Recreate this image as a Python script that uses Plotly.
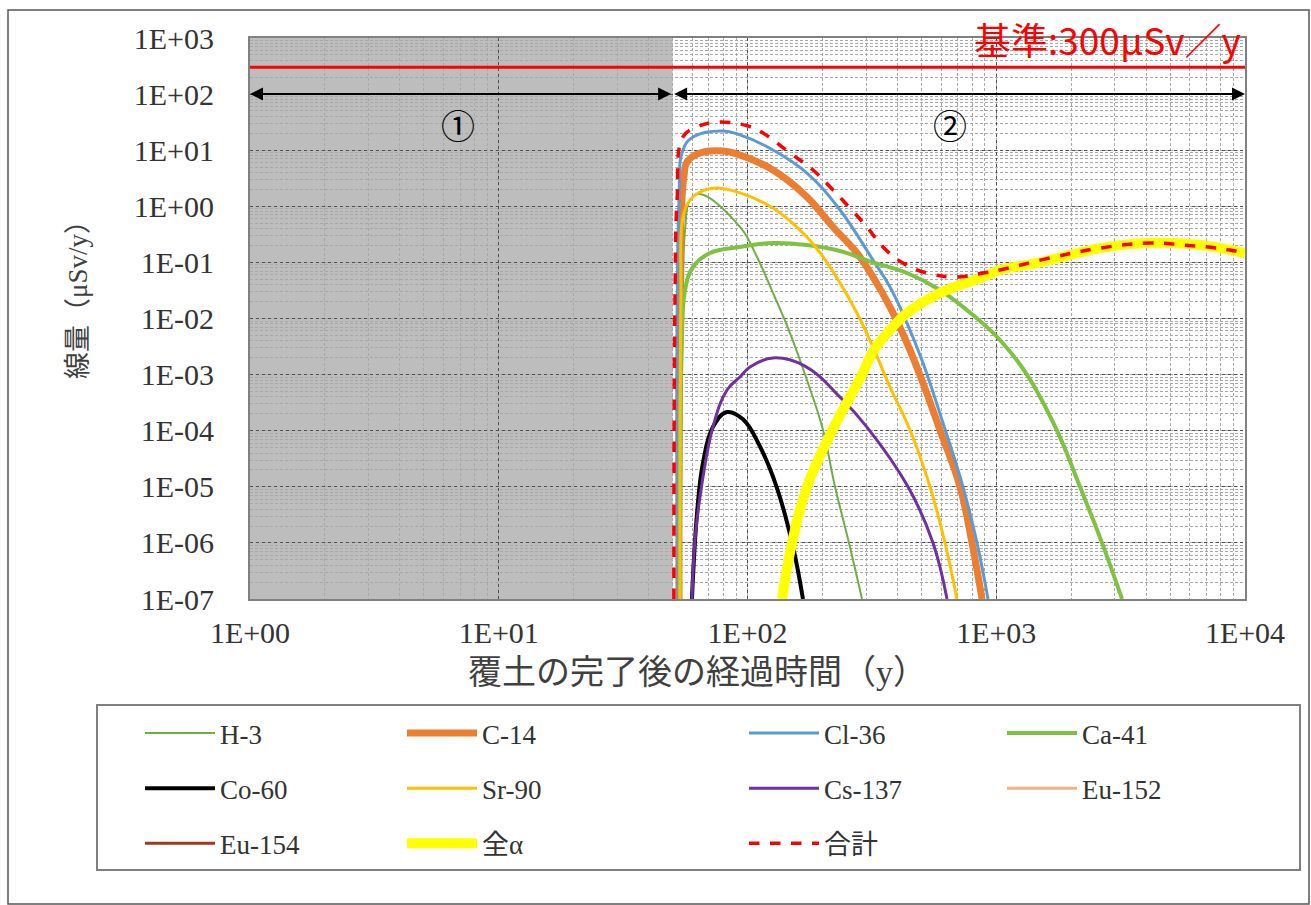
import math
import plotly.graph_objects as go

# ---- dose vs. years after cover completion (μSv/y) ----
H3_T = [54.0, 55.0, 56.1, 58.7, 64.4, 93.3, 109.2, 126.6, 148.2, 173.4, 201.2, 224.8, 255.9, 288.6]
H3_D = [1e-7, 0.0214, 0.378, 1.29, 1.66, 0.428, 0.125, 0.0285, 0.00551, 8.01e-4, 1.03e-4, 1e-5, 1e-6, 1e-7]

C14_T = [53.05, 54.0, 55.6, 57.1, 64.4, 79.7, 93.3, 126.6, 173.4, 220.7, 275.5, 319.6, 374.1, 437.7,
         507.6, 594.0, 715, 799, 877]
C14_D = [1e-7, 0.57, 3.61, 6.16, 8.91, 9.67, 8.21, 4.44, 1.47, 0.428, 0.147, 0.0549, 0.016, 0.00366,
         7.09e-4, 1.03e-4, 1e-5, 1e-6, 1e-7]

CL36_T = [52.6, 53.05, 55.0, 60.4, 79.7, 93.3, 126.6, 173.4, 235.4, 319.6, 374.1, 437.7, 507.6,
          610.9, 734.9, 836.8, 926.5]
CL36_D = [1e-7, 1.29, 10.1, 17.2, 22.0, 18.7, 10.1, 3.92, 0.859, 0.110, 0.0364, 0.0083, 1.61e-3,
          1.37e-4, 1e-5, 1e-6, 1e-7]

CA41_T = [53.5, 54.5, 56.1, 60.4, 70.7, 93.3, 126.6, 173.4, 235.4, 319.6, 437.7, 594.0, 806.3, 1035,
          1329, 1755, 2171, 2662, 3203]
CA41_D = [1e-7, 0.00414, 0.0322, 0.0828, 0.147, 0.188, 0.222, 0.204, 0.16, 0.1, 0.0647, 0.0322,
          0.0115, 0.00414, 1e-3, 1e-4, 1e-5, 1e-6, 1e-7]

CO60_T = [59.8, 62.7, 66.2, 72.6, 82.7, 95.9, 112.3, 131.4, 152.4, 167.1]
CO60_D = [1e-7, 3.41e-6, 2.66e-5, 1.16e-4, 2.15e-4, 1.6e-4, 5.2e-5, 9.5e-6, 8.45e-7, 1e-7]

SR90_T = [53.5, 54.0, 55.0, 58.7, 64.4, 75.4, 93.3, 126.6, 173.4, 201.2, 235.4, 275.5, 319.6, 374.1,
          450.1, 541.6, 622, 695]
SR90_D = [1e-7, 0.0214, 0.645, 1.29, 1.80, 2.12, 1.73, 0.933, 0.284, 0.125, 0.043, 0.01253, 0.0031,
          6.01e-4, 1.03e-4, 1e-5, 1e-6, 1e-7]

CS137_T = [59.8, 61.5, 64.4, 72.6, 82.7, 93.3, 102.3, 126.6, 170.2, 235.4, 302.2, 441.8, 557, 634]
CS137_D = [1e-7, 1.13e-6, 6.58e-6, 1.16e-4, 5.31e-4, 9.06e-4, 1.366e-3, 1.98e-3, 1.42e-3, 3.99e-4,
           1.16e-4, 1e-5, 1e-6, 1e-7]

# Eu-152 / Eu-154 stay below the displayed range (legend entries only)
EU152_T, EU152_D = [None], [None]
EU154_T, EU154_D = [None], [None]

ALPHA_T = [137.6, 151, 173.4, 218.7, 288.6, 319.6, 374.1, 437.7, 594.0, 884.5, 1035, 1499, 2613, 4150,
           6595, 10000]
ALPHA_D = [1e-7, 1e-6, 1e-5, 1e-4, 1e-3, 0.00259, 0.00624, 0.01253, 0.0285, 0.0549, 0.0732, 0.1, 0.18,
           0.222, 0.204, 0.147]

TOTAL_T = [50.6, 51.1, 52.1, 55.0, 62.7, 75.4, 100.5, 115.4, 148.2, 183.4, 220.7, 258.2, 302.2, 350.5,
           421.8, 526.8, 695.4, 884.5, 1035, 1645, 2613, 4150, 5633, 7718, 10000]
TOTAL_D = [1e-7, 0.0214, 1.29, 17.2, 25.9, 31.8, 27.0, 20.3, 8.91, 4.44, 1.95, 0.933, 0.428, 0.188,
           0.0976, 0.0647, 0.0549, 0.0647, 0.0732, 0.120, 0.180, 0.222, 0.204, 0.180, 0.147]

LIMIT = 300          # μSv/y criterion
T_MIN, T_SPLIT, T_MAX = 1, 50, 10000
ARROW_Y = 100

X_TICKS = [1, 10, 100, 1000, 10000]
X_TICKTEXT = ["1E+00", "1E+01", "1E+02", "1E+03", "1E+04"]
Y_TICKS = [1e3, 1e2, 1e1, 1e0, 1e-1, 1e-2, 1e-3, 1e-4, 1e-5, 1e-6, 1e-7]
Y_TICKTEXT = ["1E+03", "1E+02", "1E+01", "1E+00", "1E-01", "1E-02",
              "1E-03", "1E-04", "1E-05", "1E-06", "1E-07"]

# ---- page geometry ----
W, H = 1311, 905
ML, MR, MT, MB = 250, 66, 38, 306
PW, PH = W - ML - MR, H - MT - MB


def px(x):
    return (x - ML) / PW


def py(y):
    return (H - MB - y) / PH


SERIF = "Liberation Serif, Noto Sans CJK JP"
SANS_JP = "Noto Sans CJK JP, Liberation Sans"

series = [
    ("H-3", H3_T, H3_D, "#70ad47", 2, "solid", "legend"),
    ("C-14", C14_T, C14_D, "#ed7d31", 7, "solid", "legend2"),
    ("Cl-36", CL36_T, CL36_D, "#5b9bd5", 3, "solid", "legend3"),
    ("Ca-41", CA41_T, CA41_D, "#7fc241", 4, "solid", "legend4"),
    ("Co-60", CO60_T, CO60_D, "#000000", 4, "solid", "legend"),
    ("Sr-90", SR90_T, SR90_D, "#ffc000", 3, "solid", "legend2"),
    ("Cs-137", CS137_T, CS137_D, "#7030a0", 3, "solid", "legend3"),
    ("Eu-152", EU152_T, EU152_D, "#f4b183", 3, "solid", "legend4"),
    ("Eu-154", EU154_T, EU154_D, "#a0391c", 3, "solid", "legend"),
    ("全α", ALPHA_T, ALPHA_D, "#ffff00", 10, "solid", "legend2"),
    ("合計", TOTAL_T, TOTAL_D, "#ff0000", 3.5, "dash", "legend3"),
]

fig = go.Figure()

# criterion line
fig.add_trace(go.Scatter(x=[T_MIN, T_MAX], y=[LIMIT, LIMIT], mode="lines",
                         line=dict(color="#ff0000", width=3), showlegend=False,
                         hoverinfo="skip"))

for name, t, d, color, width, dash, leg in series:
    fig.add_trace(go.Scatter(
        x=t, y=d, name=name, mode="lines",
        line=dict(color=color, width=width, dash=dash, shape="spline", smoothing=1.15),
        legend=leg, legendgroup=name,
    ))

grid_major = "#505050"
grid_minor = "#a8a8a8"
axis_common = dict(
    type="log", showline=True, mirror=True, linecolor="#808080", linewidth=2,
    showgrid=True, gridcolor=grid_major, gridwidth=1.3, griddash="dot",
    ticks="", zeroline=False,
    tickfont=dict(family=SERIF, size=30, color="#333333"),
    minor=dict(dtick="D1", showgrid=True, gridcolor=grid_minor, gridwidth=1,
               griddash="3px,2px", ticks=""),
)

fig.update_xaxes(range=[math.log10(T_MIN), math.log10(T_MAX)], tickvals=X_TICKS,
                 ticktext=X_TICKTEXT, ticklabelstandoff=6, **axis_common)
fig.update_yaxes(range=[-7, 3], tickvals=Y_TICKS, ticktext=Y_TICKTEXT,
                 ticklabelstandoff=28, **axis_common)

shapes = [
    # period ① shading
    dict(type="rect", xref="x", yref="paper", x0=T_MIN, x1=T_SPLIT, y0=0, y1=1,
         fillcolor="#bdbdbd", line=dict(width=0), layer="below"),
    # legend frame
    dict(type="rect", xref="paper", yref="paper", x0=px(97), x1=px(1300), y0=py(870), y1=py(705),
         line=dict(color="#808080", width=2), fillcolor="rgba(0,0,0,0)"),
    # outer frame
    dict(type="rect", xref="paper", yref="paper", x0=px(8), x1=px(1309), y0=py(904), y1=py(10),
         line=dict(color="#555555", width=1.5), fillcolor="rgba(0,0,0,0)"),
]

annotations = [
    dict(text="線量（μSv/y）", x=px(78), y=py(293), xref="paper", yref="paper",
         xanchor="center", yanchor="middle", textangle=-90, showarrow=False,
         font=dict(family=SERIF, size=27, color="#404040")),
    dict(text="覆土の完了後の経過時間（y）", x=px(697), y=py(672), xref="paper", yref="paper",
         xanchor="center", yanchor="middle", showarrow=False,
         font=dict(family=SERIF, size=34, color="#404040")),
    dict(text="基準:300μSv／y", x=px(1243), y=py(68), xref="paper", yref="paper",
         xanchor="right", yanchor="bottom", showarrow=False,
         font=dict(family=SANS_JP, size=37, color="#ff0000")),
    dict(text="①", x=px(458), y=py(128), xref="paper", yref="paper", showarrow=False,
         xanchor="center", yanchor="middle", font=dict(family=SERIF, size=34, color="#000000")),
    dict(text="②", x=px(950), y=py(128), xref="paper", yref="paper", showarrow=False,
         xanchor="center", yanchor="middle", font=dict(family=SERIF, size=34, color="#000000")),
    # period arrows (log10 coordinates on log axes)
    dict(text="", x=math.log10(T_MIN), y=math.log10(ARROW_Y), xref="x", yref="y",
         ax=math.log10(T_SPLIT), ay=math.log10(ARROW_Y), axref="x", ayref="y",
         showarrow=True, arrowhead=2, arrowside="end+start", arrowsize=1.3, arrowwidth=2,
         arrowcolor="#000000"),
    dict(text="", x=math.log10(T_MAX), y=math.log10(ARROW_Y), xref="x", yref="y",
         ax=math.log10(T_SPLIT), ay=math.log10(ARROW_Y), axref="x", ayref="y",
         showarrow=True, arrowhead=2, arrowside="end+start", arrowsize=1.3, arrowwidth=2,
         arrowcolor="#000000"),
]

leg_font = dict(family=SERIF, size=27, color="#333333")
leg_common = dict(orientation="v", xanchor="left", yanchor="top", bgcolor="rgba(0,0,0,0)",
                  borderwidth=0, font=leg_font, tracegroupgap=17, traceorder="grouped",
                  itemwidth=70)
legend_top = py(709)

fig.update_layout(
    width=W, height=H, autosize=False,
    margin=dict(l=ML, r=MR, t=MT, b=MB),
    paper_bgcolor="#ffffff", plot_bgcolor="#ffffff",
    shapes=shapes, annotations=annotations,
    legend=dict(x=px(140), y=legend_top, **leg_common),
    legend2=dict(x=px(402), y=legend_top, **leg_common),
    legend3=dict(x=px(744), y=legend_top, **leg_common),
    legend4=dict(x=px(1002), y=legend_top, **leg_common),
)

fig.write_html("out.html")
